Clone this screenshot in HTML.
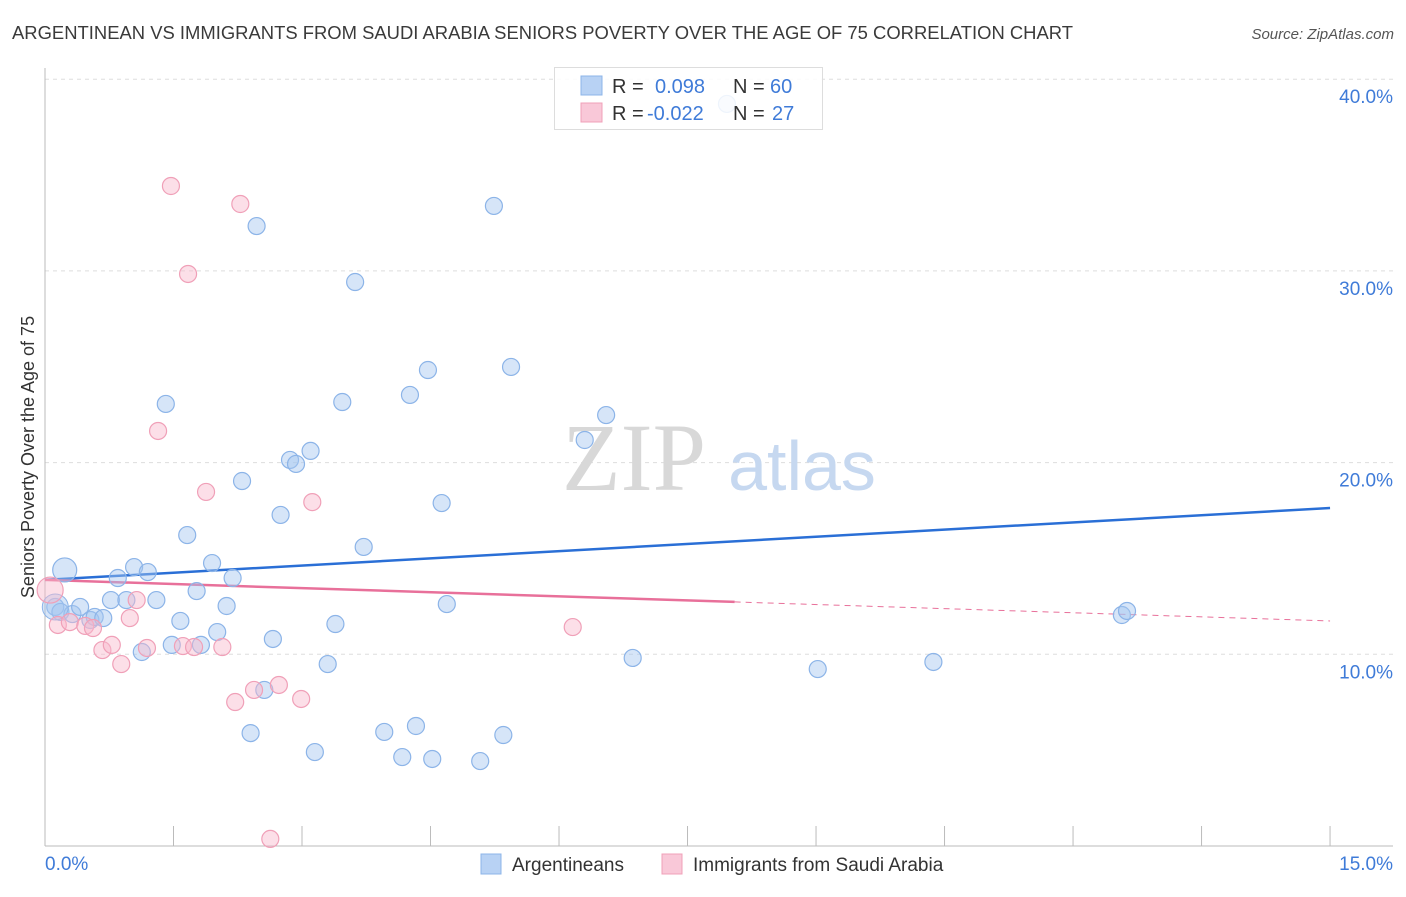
<!DOCTYPE html>
<html><head><meta charset="utf-8">
<style>
body{margin:0;background:#fff;font-family:"Liberation Sans",sans-serif;}
svg text{font-family:"Liberation Sans",sans-serif;}
svg text.serif{font-family:"Liberation Serif",serif;}
</style></head>
<body>
<svg id="chart" width="1406" height="892" viewBox="0 0 1406 892" xmlns="http://www.w3.org/2000/svg">
<text x="12" y="39" font-size="18" fill="#3a3a3a" textLength="1061" lengthAdjust="spacingAndGlyphs">ARGENTINEAN VS IMMIGRANTS FROM SAUDI ARABIA SENIORS POVERTY OVER THE AGE OF 75 CORRELATION CHART</text>
<text x="1394" y="39" font-size="15" fill="#555" text-anchor="end" font-style="italic">Source: ZipAtlas.com</text>
<g id="grid"></g>
<g>
<text class="serif" x="634" y="490" font-size="96" fill="#d8d8d8" text-anchor="middle">ZIP</text>
<text x="802" y="490" font-size="70" fill="#c6d8f0" text-anchor="middle">atlas</text>
</g>
<text transform="translate(34,457) rotate(-90)" font-size="18" fill="#333" text-anchor="middle">Seniors Poverty Over the Age of 75</text>
<g id="lines"></g>
<g id="pts"></g>
<g>
<rect x="554.5" y="67.5" width="268" height="62" fill="rgba(255,255,255,0.85)" stroke="#ddd"/>
<rect x="581" y="76" width="21" height="19" fill="#b8d2f4" stroke="#8cb4e8"/>
<rect x="581" y="103" width="21" height="19" fill="#f9c8d8" stroke="#f0a0b8"/>
<text x="612" y="93" font-size="20" fill="#333">R =</text>
<text x="655" y="93" font-size="20" fill="#3f7bd8">0.098</text>
<text x="733" y="93" font-size="20" fill="#333">N =</text>
<text x="770" y="93" font-size="20" fill="#3f7bd8">60</text>
<text x="612" y="120" font-size="20" fill="#333">R =</text>
<text x="647" y="120" font-size="20" fill="#3f7bd8">-0.022</text>
<text x="733" y="120" font-size="20" fill="#333">N =</text>
<text x="772" y="120" font-size="20" fill="#3f7bd8">27</text>
</g>
<g>
<rect x="481" y="854" width="20" height="20" fill="#b8d2f4" stroke="#8cb4e8"/>
<text x="512" y="871" font-size="19" fill="#333">Argentineans</text>
<rect x="662" y="854" width="20" height="20" fill="#f9c8d8" stroke="#f0a0b8"/>
<text x="693" y="871" font-size="19" fill="#333">Immigrants from Saudi Arabia</text>
</g>
</svg>
<script>
const blueX=[0.23,0.12,0.18,0.32,0.41,0.53,0.58,0.68,0.77,0.85,0.95,1.04,1.13,1.20,1.30,1.41,1.48,1.58,1.66,1.77,1.82,1.95,2.01,2.12,2.19,2.30,2.40,2.47,2.56,2.66,2.75,2.86,2.93,3.10,3.15,3.30,3.39,3.47,3.62,3.72,3.96,4.17,4.26,4.33,4.47,4.52,4.63,4.69,5.08,5.24,5.35,5.44,6.30,6.55,6.86,7.96,9.02,10.37,12.57,12.63];
const blueY=[14.40,12.47,12.21,12.10,12.47,11.79,11.95,11.89,12.83,13.98,12.83,14.55,10.12,14.29,12.83,23.06,10.49,11.74,16.22,13.30,10.49,14.76,11.16,12.52,13.98,19.04,5.89,32.34,8.14,10.80,17.27,20.14,19.93,20.61,4.90,9.49,11.58,23.16,29.42,15.60,5.95,4.64,23.53,6.26,24.83,4.54,17.89,12.62,4.43,33.39,5.79,24.99,21.18,22.48,9.81,38.71,9.23,9.60,12.05,12.26];
const pinkX=[0.06,0.15,0.29,0.47,0.56,0.67,0.78,0.89,0.99,1.07,1.19,1.32,1.47,1.61,1.67,1.74,1.88,2.07,2.22,2.28,2.44,2.63,2.73,2.99,3.12,6.16];
const pinkY=[13.35,11.53,11.68,11.48,11.37,10.22,10.49,9.49,11.89,12.83,10.33,21.65,34.43,10.43,29.84,10.38,18.47,10.38,7.51,33.49,8.14,0.37,8.40,7.67,17.94,11.42];
const blueTrend=[13.88,17.63];
const pinkTrend=[13.88,11.74];
const yTicks=[10,20,30,40];
const yTickLabels=["10.0%","20.0%","30.0%","40.0%"];
const xTicks=[0,1.5,3,4.5,6,7.5,9,10.5,12,13.5,15];
const xLabels=["0.0%","15.0%"];
const NS="http://www.w3.org/2000/svg";
const sx=v=>45+v*85.67, sy=v=>846-v*19.17;
function mk(tag,attrs,parent){const e=document.createElementNS(NS,tag);for(const k in attrs)e.setAttribute(k,attrs[k]);parent.appendChild(e);return e;}
const grid=document.getElementById('grid');
yTicks.forEach((t,i)=>{
 const l=mk('line',{x1:45,x2:1393,y1:sy(t),y2:sy(t),stroke:'#ddd','stroke-dasharray':'4,4'},grid);
 
 
 const tx=mk('text',{x:1393,y:sy(t)+24,'font-size':19,fill:'#3f7bd8','text-anchor':'end'},grid);
 tx.textContent=yTickLabels[i];
 
 
});
const ax=mk('line',{x1:45,x2:45,y1:68,y2:846,stroke:'#bbb'},grid);


const bx=mk('line',{x1:45,x2:1393,y1:846,y2:846,stroke:'#bbb'},grid);


xTicks.forEach(t=>{const l=mk('line',{x1:sx(t),x2:sx(t),y1:826,y2:846,stroke:'#bbb'},grid);
 
 });
const xl0=mk('text',{x:45,y:870,'font-size':19,fill:'#3f7bd8'},grid);xl0.textContent=xLabels[0];


const xl1=mk('text',{x:1393,y:870,'font-size':19,fill:'#3f7bd8','text-anchor':'end'},grid);xl1.textContent=xLabels[1];


const pts=document.getElementById('pts');
blueX.forEach((x,i)=>{const big=i<1;const c=mk('circle',{cx:sx(x),cy:sy(blueY[i]),r:big?12:8.5,fill:'rgba(165,197,240,0.45)',stroke:'#8cb4e8','stroke-width':1.2},pts);
 
 });
const bigBlue=mk('circle',{cx:sx(blueX[1]),cy:sy(blueY[1]),r:13,fill:'rgba(165,197,240,0.45)',stroke:'#8cb4e8'},pts);


pinkX.forEach((x,i)=>{const c=mk('circle',{cx:sx(x),cy:sy(pinkY[i]),r:i==0?13:8.5,fill:'rgba(248,185,205,0.45)',stroke:'#f0a0b8','stroke-width':1.2},pts);
 
 });
const lines=document.getElementById('lines');
const bl=mk('line',{x1:sx(0),y1:sy(blueTrend[0]),x2:sx(15),y2:sy(blueTrend[1]),stroke:'#2a6fd6','stroke-width':2.5},lines);


const pm=8.05, pmid=pinkTrend[0]+(pinkTrend[1]-pinkTrend[0])*pm/15;
const pl=mk('line',{x1:sx(0),y1:sy(pinkTrend[0]),x2:sx(pm),y2:sy(pmid),stroke:'#e8709a','stroke-width':2.5},lines);


const pd=mk('line',{x1:sx(pm),y1:sy(pmid),x2:sx(15),y2:sy(pinkTrend[1]),stroke:'#e8709a','stroke-width':1,'stroke-dasharray':'6,5'},lines);


</script>
</body></html>
